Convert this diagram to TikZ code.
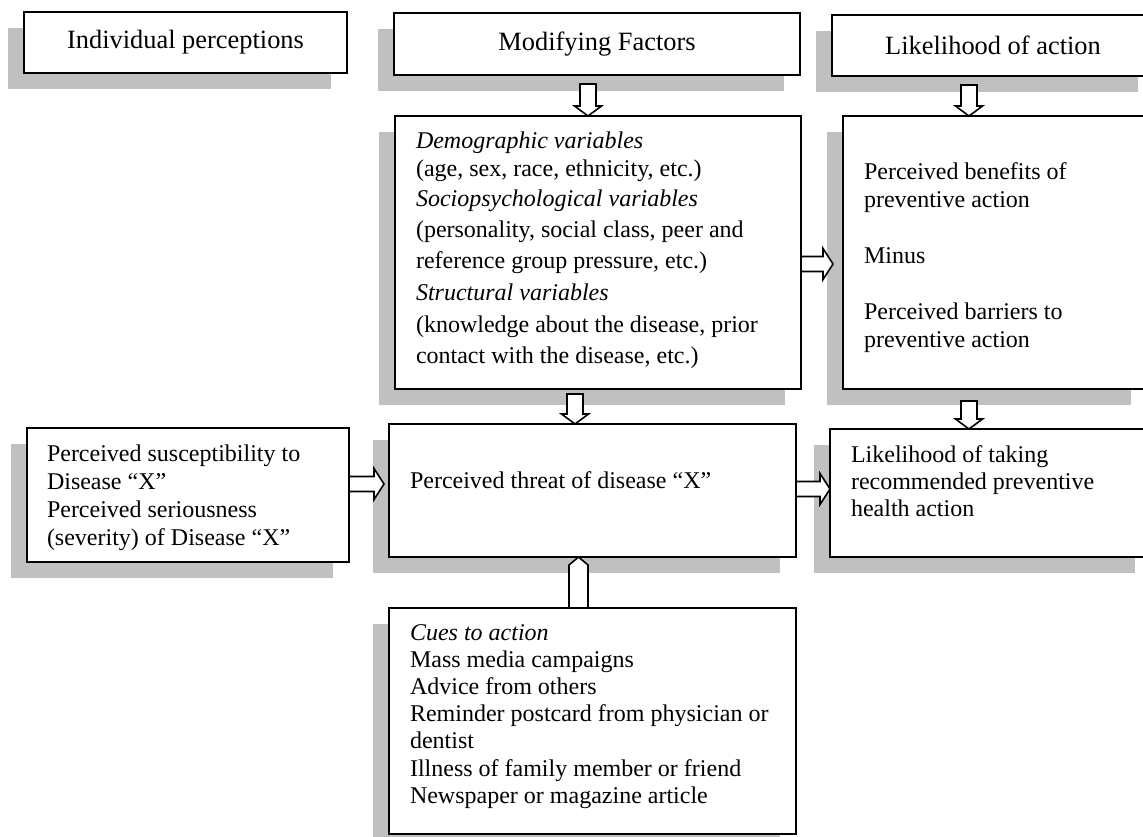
\documentclass[tikz,border=0pt]{standalone}
\usepackage{fontspec}
\setmainfont{Liberation Serif}
\usetikzlibrary{calc,shadows}
\definecolor{shgray}{RGB}{192,192,192}
\newcommand{\txtlines}[1]{\begin{tabular}[t]{@{}l@{}}#1\end{tabular}}
\newcommand{\blkdown}[2]{\draw[blk] let \p1=(#1), \p2=(#2) in
  (\x1-4pt,\y1) -- (\x1-4pt,\y2+5pt) -- (\x1-6.75pt,\y2+5pt) -- (\x1,\y2) --
  (\x1+6.75pt,\y2+5pt) -- (\x1+4pt,\y2+5pt) -- (\x1+4pt,\y1) -- cycle;}
\newcommand{\blkright}[2]{\draw[blk] let \p1=(#1), \p2=(#2) in
  (\x1,\y1+3.75pt) -- (\x2-5pt,\y1+3.75pt) -- (\x2-5pt,\y1+7.75pt) -- (\x2,\y1) --
  (\x2-5pt,\y1-7.75pt) -- (\x2-5pt,\y1-3.75pt) -- (\x1,\y1-3.75pt) -- cycle;}
\newcommand{\blkup}[2]{\draw[blk] let \p1=(#1), \p2=(#2) in
  (\x1-4.75pt,\y1) -- (\x1-4.75pt,\y2-4pt) -- (\x1,\y2) --
  (\x1+4.75pt,\y2-4pt) -- (\x1+4.75pt,\y1) -- cycle;}
\begin{document}
\begin{tikzpicture}[x=0.5pt,y=-0.5pt,
  box/.style={draw, line width=1pt, fill=white, inner sep=0pt, outer sep=0pt,
    drop shadow={shadow xshift=-8pt,shadow yshift=-8pt,fill=shgray,opacity=1}},
  headbox/.style={box, font=\fontsize{13.2}{15}\selectfont},
  txt/.style={inner sep=0pt, outer sep=0pt, anchor=base west},
  blk/.style={draw, fill=white, line width=0.8pt, line join=miter}]
\useasboundingbox (0,0) rectangle (1143,836);

% header boxes
\node[headbox, minimum width=161.5pt, minimum height=30.5pt] (ind) at (185.5,42.5) {Individual perceptions};
\node[headbox, minimum width=203pt, minimum height=31pt] (mod) at (597,44) {Modifying Factors};
\node[headbox, minimum width=161pt, minimum height=30.5pt] (lik) at (993,45.5) {Likelihood of action};

% content boxes
\node[box, minimum width=203pt, minimum height=136.5pt] (modvars) at (598,252.5) {};
\node[box, minimum width=152pt, minimum height=136.5pt] (ben) at (995,252.5) {};
\node[box, minimum width=161pt, minimum height=67pt] (susc) at (188,495) {};
\node[box, minimum width=203.5pt, minimum height=66.5pt] (threat) at (592.5,490.5) {};
\node[box, minimum width=160.5pt, minimum height=64pt] (take) at (990.5,493) {};
\node[box, minimum width=203.5pt, minimum height=113pt] (cues) at (592.5,721) {};

% texts
\node[txt, font=\fontsize{12}{14}\selectfont] (modtxt) at (416,148) {\txtlines{%
  \textit{Demographic variables}\\
  (age, sex, race, ethnicity, etc.)\\[1pt]
  \textit{Sociopsychological variables}\\[1.5pt]
  (personality, social class, peer and\\[1.5pt]
  reference group pressure, etc.)\\[2pt]
  \textit{Structural variables}\\[2pt]
  (knowledge about the disease, prior\\[1.5pt]
  contact with the disease, etc.)}};
\node[txt, font=\fontsize{12}{14}\selectfont] (bentxt) at (864,179) {\txtlines{%
  Perceived benefits of\\
  preventive action\\[14pt]
  Minus\\[14pt]
  Perceived barriers to\\
  preventive action}};
\node[txt, font=\fontsize{12}{14}\selectfont] (susctxt) at (47,461) {\txtlines{%
  Perceived susceptibility to\\
  Disease “X”\\
  Perceived seriousness\\
  (severity) of Disease “X”}};
\node[txt, font=\fontsize{12}{14}\selectfont] (threattxt) at (410,488) {Perceived threat of disease “X”};
\node[txt, font=\fontsize{12}{13.5}\selectfont] (taketxt) at (851,462) {\txtlines{%
  Likelihood of taking\\
  recommended preventive\\
  health action}};
\node[txt, font=\fontsize{12}{13.6}\selectfont] (cuestxt) at (410,640) {\txtlines{%
  \textit{Cues to action}\\
  Mass media campaigns\\
  Advice from others\\
  Reminder postcard from physician or\\
  dentist\\
  Illness of family member or friend\\
  Newspaper or magazine article}};

% block arrows
\blkdown{$(mod.south)+(-9,9)$}{modvars.north}
\blkdown{$(lik.south)+(-24,9)$}{ben.north}
\blkdown{$(modvars.south)+(-23,5)$}{threat.north}
\blkdown{$(ben.south)+(-26,12)$}{take.north}
\blkright{$(modvars.east)+(0,11.5)$}{$(ben.west)+(-10,0)$}
\blkright{$(susc.east)+(0,-11)$}{$(threat.west)+(-5,0)$}
\blkright{$(threat.east)+(0,-1.5)$}{take.west}
\blkup{$(cues.north)+(-14,0)$}{threat.south}
\end{tikzpicture}
\end{document}
